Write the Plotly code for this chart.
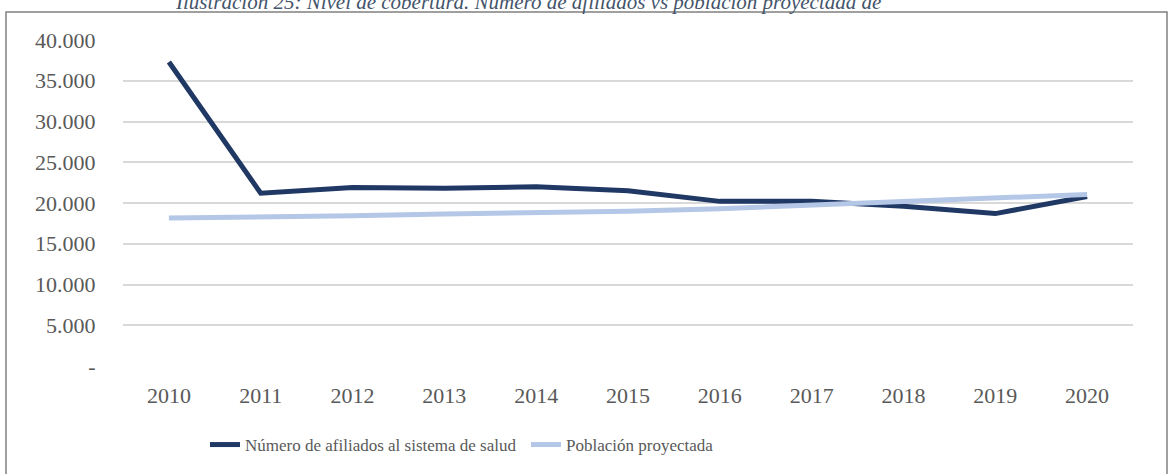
import plotly.graph_objects as go

years = ["2010", "2011", "2012", "2013", "2014", "2015", "2016", "2017", "2018", "2019", "2020"]
afiliados = [37300, 21200, 21900, 21800, 22000, 21500, 20200, 20200, 19600, 18700, 20800]
poblacion = [18150, 18250, 18450, 18650, 18800, 19000, 19300, 19700, 20100, 20550, 21050]

ytick_vals = [0, 5000, 10000, 15000, 20000, 25000, 30000, 35000, 40000]
ytick_text = ["-", "5.000", "10.000", "15.000", "20.000", "25.000", "30.000", "35.000", "40.000"]

title_text = "Ilustración 25: Nivel de cobertura. Número de afiliados vs población proyectada de"

FONT = "Liberation Serif"

W, H = 1170, 474
L, R, T, B = 123, 37, 40, 108
pw, ph = W - L - R, H - T - B

def px(x):
    return (x - L) / pw

def py(y):
    return (H - B - y) / ph

fig = go.Figure()
fig.add_trace(go.Scatter(
    x=years, y=afiliados, mode="lines", name="Número de afiliados al sistema de salud",
    line=dict(color="#203864", width=5), cliponaxis=False))
fig.add_trace(go.Scatter(
    x=years, y=poblacion, mode="lines", name="Población proyectada",
    line=dict(color="#B4C7E7", width=5), cliponaxis=False))

fig.update_layout(
    width=W, height=H,
    margin=dict(l=L, r=R, t=T, b=B, autoexpand=False),
    paper_bgcolor="white", plot_bgcolor="white",
    font=dict(family=FONT, color="#595959"),
    showlegend=True,
    legend=dict(orientation="h", x=px(205), xanchor="left", y=py(445), yanchor="middle",
                font=dict(family=FONT, size=17, color="#595959"), traceorder="normal",
                entrywidth=276, bgcolor="rgba(0,0,0,0)"),
    xaxis=dict(type="category", range=[-0.5, 10.5], showgrid=False, zeroline=False,
               showline=False, ticks="outside", ticklen=10, tickcolor="rgba(0,0,0,0)",
               tickfont=dict(family=FONT, size=22, color="#595959"), automargin=False),
    yaxis=dict(range=[0, 40000], tickvals=ytick_vals, ticktext=ytick_text,
               showgrid=True, gridcolor="#D9D9D9", gridwidth=1.5, zeroline=False,
               showline=False, ticks="outside", ticklen=22, tickcolor="rgba(0,0,0,0)",
               tickfont=dict(family=FONT, size=22, color="#595959"), automargin=False),
    shapes=[dict(type="rect", xref="paper", yref="paper",
                 x0=px(6), x1=px(1167), y0=py(490), y1=py(12),
                 line=dict(color="#808080", width=1.5), fillcolor="rgba(0,0,0,0)", layer="below")],
    annotations=[dict(text="<i>" + title_text + "</i>", xref="paper", yref="paper",
                      x=px(173), xanchor="left", y=py(16), yanchor="bottom",
                      showarrow=False, font=dict(family=FONT, size=21, color="#44546A"))],
)

fig.write_html("out.html",
               config={"displayModeBar": False},
               post_script="document.body.style.margin='0px';document.body.style.overflow='hidden';")
